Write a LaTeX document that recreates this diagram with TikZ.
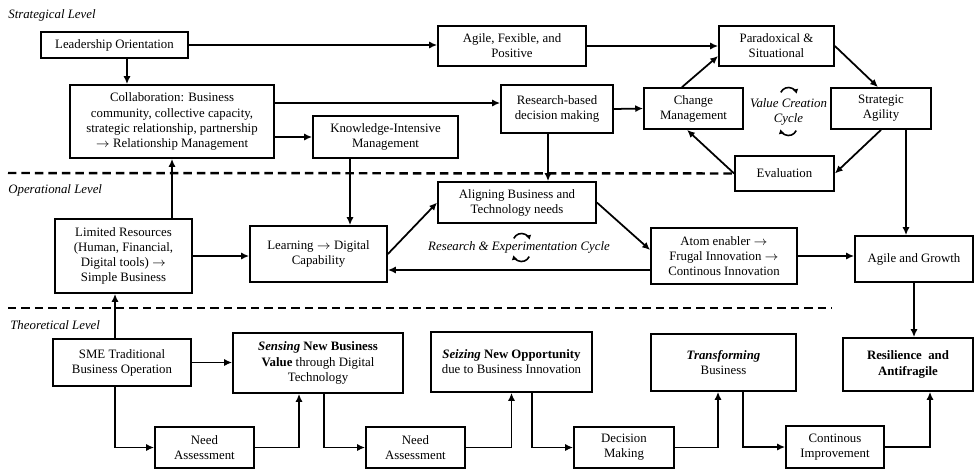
\documentclass[tikz,border=0pt]{standalone}
\usepackage{fontspec}
\setmainfont{Liberation Serif}
\usetikzlibrary{
	arrows.meta
}
\tikzset{
	>={Latex[length=4.5pt,width=4pt]},
	flowedge/.style={->, line width=1pt},
	blocknode/.style={draw, line width=1pt, align=center, inner sep=1pt, font=\fontsize{7.3}{8.6}\selectfont},
	levelline/.style={line width=1.4pt, dash pattern=on 0.17cm off 0.1cm},
	levellabel/.style={anchor=west, inner sep=0pt, font=\fontsize{7.3}{8.6}\selectfont\itshape},
	cyclearrow/.style={-{Latex[length=2.6pt,width=3.2pt]}, line width=0.9pt}
}
\newcommand{\toarrow}{$\rightarrow$}

\begin{document}
\begin{tikzpicture}[x=0.02cm, y=-0.02cm]
	\useasboundingbox (0,0) rectangle (974,470);

	% levels
	\node[levellabel] (strlabel) at (8,15) {Strategical Level};
	\node[levellabel] (oplabel) at (8,190) {Operational Level};
	\node[levellabel] (thlabel) at (10,325) {Theoretical Level};

	% strategical level
	\node[blocknode, minimum width=2.94cm, minimum height=0.52cm] (lead) at (114.5,45) {Leadership Orientation};
	\node[blocknode, minimum width=4.08cm, minimum height=1.46cm] (collab) at (172,121.5) {Collaboration: Business\\community, collective capacity,\\strategic relationship, partnership\\\toarrow{} Relationship Management};
	\node[blocknode, minimum width=2.96cm, minimum height=0.80cm] (agile) at (512,46) {Agile, Fexible, and\\Positive};
	\node[blocknode, minimum width=2.30cm, minimum height=0.80cm] (parad) at (776.5,46) {Paradoxical \&\\Situational};
	\node[blocknode, minimum width=2.24cm, minimum height=0.96cm] (research) at (557,109) {Research-based\\decision making};
	\node[blocknode, minimum width=2.90cm, minimum height=0.84cm] (know) at (385.5,137) {Knowledge-Intensive\\Management};
	\node[blocknode, minimum width=1.98cm, minimum height=0.82cm] (change) at (693.5,108.5) {Change\\Management};
	\node[blocknode, minimum width=2.00cm, minimum height=0.82cm] (strat) at (881,108.5) {Strategic\\Agility};
	\node[blocknode, minimum width=1.98cm, minimum height=0.70cm] (eval) at (784.5,173.5) {Evaluation};
	\node[levellabel, anchor=center, align=center] (vcc) at (788.5,111.5) {Value Creation\\Cycle};

	% operational level
	\node[blocknode, minimum width=3.16cm, minimum height=0.82cm] (align) at (517,202.5) {Aligning Business and\\Technology needs};
	\node[blocknode, minimum width=2.74cm, minimum height=1.12cm] (learn) at (318.5,254) {Learning \toarrow{} Digital\\Capability};
	\node[blocknode, minimum width=2.74cm, minimum height=1.48cm] (limited) at (123.5,256) {Limited Resources\\(Human, Financial,\\Digital tools) \toarrow\\Simple Business};
	\node[blocknode, minimum width=2.92cm, minimum height=1.12cm] (atom) at (724,256) {Atom enabler \toarrow\\Frugal Innovation \toarrow\\Continous Innovation};
	\node[blocknode, minimum width=2.36cm, minimum height=0.92cm] (growth) at (914,259) {Agile and Growth};
	\node[levellabel, anchor=center] (rec) at (519,247) {Research \& Experimentation Cycle};

	% theoretical level
	\node[blocknode, minimum width=2.76cm, minimum height=0.94cm] (sme) at (122,362.5) {SME Traditional\\Business Operation};
	\node[blocknode, minimum width=3.40cm, minimum height=1.20cm] (sensing) at (318,363) {\textbf{\textit{Sensing} New Business}\\\textbf{Value} through Digital\\Technology};
	\node[blocknode, minimum width=3.22cm, minimum height=1.20cm] (seizing) at (511.5,362) {\textbf{\textit{Seizing} New Opportunity}\\due to Business Innovation};
	\node[blocknode, minimum width=2.90cm, minimum height=1.14cm] (transf) at (723.5,362.5) {\textbf{\textit{Transforming}}\\Business};
	\node[blocknode, minimum width=2.60cm, minimum height=1.06cm] (resil) at (908,364.5) {\textbf{Resilience\ \ and}\\\textbf{Antifragile}};
	\node[blocknode, minimum width=1.98cm, minimum height=0.82cm] (needa) at (204.5,447.5) {Need\\Assessment};
	\node[blocknode, minimum width=1.98cm, minimum height=0.82cm] (needb) at (415.5,447.5) {Need\\Assessment};
	\node[blocknode, minimum width=2.00cm, minimum height=0.82cm] (decide) at (624,447.5) {Decision\\Making};
	\node[blocknode, minimum width=1.96cm, minimum height=0.84cm] (contin) at (835,447) {Continous\\Improvement};

	% level separators
	\coordinate (sepa) at (8,173);
	\coordinate (sepb) at (8,308);
	\coordinate (sepbend) at (832,308);
	\draw[levelline] (sepa) -- (eval.west);
	\draw[levelline] (sepb) -- (sepbend);

	% strategical connectors
	\draw[flowedge] ([xshift=0.25cm]lead.south) -- ([xshift=0.25cm]lead.south |- collab.north);
	\draw[flowedge] (lead.east) -- (lead.east -| agile.west);
	\draw[flowedge] (agile.east) -- (parad.west);
	\draw[flowedge] ([yshift=0.37cm]collab.east) -- ([yshift=0.37cm]collab.east -| research.west);
	\draw[flowedge] ([yshift=-0.31cm]collab.east) -- (know.west);
	\draw[flowedge] (research.east) -- (change.west);
	\draw[flowedge] ([xshift=-0.23cm]change.north) -- ([yshift=-0.2cm]parad.west);
	\draw[flowedge] (parad.east) -- ([xshift=-0.06cm]strat.north);
	\draw[flowedge] (strat.south) -- (eval.east);
	\draw[flowedge] (eval.west) -- ([xshift=-0.13cm]change.south);
	\draw[flowedge] ([xshift=0.5cm]strat.south) -- ([xshift=0.5cm]strat.south |- growth.north);
	\draw[flowedge] ([xshift=-0.18cm]research.south) -- ([xshift=-0.18cm]research.south |- align.north);
	\draw[flowedge] ([xshift=-0.71cm]know.south) -- ([xshift=-0.71cm]know.south |- learn.north);

	% operational connectors
	\draw[flowedge] (limited.north -| collab.south) -- (collab.south);
	\draw[flowedge] (limited.east) -- (limited.east -| learn.west);
	\draw[flowedge] (learn.east) -- (align.west);
	\draw[flowedge] (align.east) -- ([yshift=0.12cm]atom.west);
	\draw[flowedge] ([yshift=-0.28cm]atom.west) -- ([yshift=-0.28cm]atom.west -| learn.east);
	\draw[flowedge] (atom.east) -- (atom.east -| growth.west);
	\draw[flowedge] (growth.south) -- (growth.south |- resil.north);

	% theoretical connectors
	\draw[flowedge] ([xshift=-0.14cm]sme.north) -- ([xshift=-0.14cm]sme.north |- limited.south);
	\draw[flowedge] (sme.east) -- (sme.east -| sensing.west);
	\draw[flowedge] ([xshift=-0.14cm]sme.south) |- (needa.west);
	\draw[flowedge] (needa.east) -| ([xshift=-0.38cm]sensing.south);
	\draw[flowedge] ([xshift=0.12cm]sensing.south) |- (needb.west);
	\draw[flowedge] (needb.east) -| (seizing.south);
	\draw[flowedge] ([xshift=0.41cm]seizing.south) |- (decide.west);
	\draw[flowedge] (decide.east) -| ([xshift=-0.11cm]transf.south);
	\draw[flowedge] ([xshift=0.39cm]transf.south) |- (contin.west);
	\draw[flowedge] (contin.east) -| ([xshift=0.44cm]resil.south);

	% cycle marks
	\draw[cyclearrow] (788.5,96) ++(205:8.5) arc[start angle=205, end angle=345, radius=8.5];
	\draw[cyclearrow] (788.5,127) ++(25:8.5) arc[start angle=25, end angle=165, radius=8.5];
	\draw[cyclearrow] (521.5,242) ++(205:8.5) arc[start angle=205, end angle=345, radius=8.5];
	\draw[cyclearrow] (521.5,253) ++(25:8.5) arc[start angle=25, end angle=165, radius=8.5];
\end{tikzpicture}
\end{document}
